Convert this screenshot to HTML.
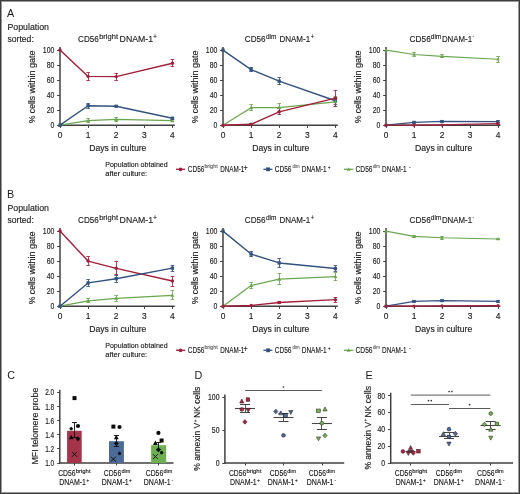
<!DOCTYPE html>
<html><head><meta charset="utf-8"><style>
html,body{margin:0;padding:0;background:#fff;}
body{width:520px;height:494px;overflow:hidden;}
svg{display:block;}
text{font-family:"Liberation Sans",sans-serif;fill:#222222;filter:grayscale(1);stroke:#222222;stroke-width:0.15px;}
text.big{stroke-width:0;fill:#1a1a1a;}
text.sm{stroke-width:0.12px;fill:#161616;stroke:#161616;}
</style></head><body>
<svg width="520" height="494" viewBox="0 0 520 494">
<rect x="0" y="0" width="520" height="494" fill="#fff"/>
<line x1="60.00" y1="47.10" x2="60.00" y2="125.95" stroke="#404040" stroke-width="1.5"/>
<line x1="59.25" y1="125.20" x2="174.80" y2="125.20" stroke="#404040" stroke-width="1.5"/>
<line x1="57.10" y1="125.50" x2="60.00" y2="125.50" stroke="#404040" stroke-width="1.0"/>
<text x="54.40" y="128.10" font-size="8.4" text-anchor="end" textLength="3.85" lengthAdjust="spacingAndGlyphs">0</text>
<line x1="57.10" y1="110.50" x2="60.00" y2="110.50" stroke="#404040" stroke-width="1.0"/>
<text x="54.40" y="113.08" font-size="8.4" text-anchor="end" textLength="7.70" lengthAdjust="spacingAndGlyphs">20</text>
<line x1="57.10" y1="95.50" x2="60.00" y2="95.50" stroke="#404040" stroke-width="1.0"/>
<text x="54.40" y="98.06" font-size="8.4" text-anchor="end" textLength="7.70" lengthAdjust="spacingAndGlyphs">40</text>
<line x1="57.10" y1="80.50" x2="60.00" y2="80.50" stroke="#404040" stroke-width="1.0"/>
<text x="54.40" y="83.04" font-size="8.4" text-anchor="end" textLength="7.70" lengthAdjust="spacingAndGlyphs">60</text>
<line x1="57.10" y1="65.50" x2="60.00" y2="65.50" stroke="#404040" stroke-width="1.0"/>
<text x="54.40" y="68.02" font-size="8.4" text-anchor="end" textLength="7.70" lengthAdjust="spacingAndGlyphs">80</text>
<line x1="57.10" y1="50.50" x2="60.00" y2="50.50" stroke="#404040" stroke-width="1.0"/>
<text x="54.40" y="53.00" font-size="8.4" text-anchor="end" textLength="11.55" lengthAdjust="spacingAndGlyphs">100</text>
<line x1="60.50" y1="125.20" x2="60.50" y2="127.90" stroke="#404040" stroke-width="1.0"/>
<text x="60.00" y="138.20" font-size="8.4" text-anchor="middle">0</text>
<line x1="88.50" y1="125.20" x2="88.50" y2="127.90" stroke="#404040" stroke-width="1.0"/>
<text x="88.10" y="138.20" font-size="8.4" text-anchor="middle">1</text>
<line x1="116.50" y1="125.20" x2="116.50" y2="127.90" stroke="#404040" stroke-width="1.0"/>
<text x="116.20" y="138.20" font-size="8.4" text-anchor="middle">2</text>
<line x1="144.50" y1="125.20" x2="144.50" y2="127.90" stroke="#404040" stroke-width="1.0"/>
<text x="144.30" y="138.20" font-size="8.4" text-anchor="middle">3</text>
<line x1="172.50" y1="125.20" x2="172.50" y2="127.90" stroke="#404040" stroke-width="1.0"/>
<text x="172.40" y="138.20" font-size="8.4" text-anchor="middle">4</text>
<polyline points="60.00,50.10 88.10,76.39 116.20,76.61 172.40,63.24" fill="none" stroke="#a21f3a" stroke-width="1.4" stroke-linejoin="round"/>
<line x1="88.50" y1="72.39" x2="88.50" y2="80.39" stroke="#a21f3a" stroke-width="0.85"/>
<line x1="86.30" y1="72.50" x2="89.90" y2="72.50" stroke="#a21f3a" stroke-width="0.85"/>
<line x1="86.30" y1="80.50" x2="89.90" y2="80.50" stroke="#a21f3a" stroke-width="0.85"/>
<line x1="116.50" y1="73.11" x2="116.50" y2="80.11" stroke="#a21f3a" stroke-width="0.85"/>
<line x1="114.40" y1="73.50" x2="118.00" y2="73.50" stroke="#a21f3a" stroke-width="0.85"/>
<line x1="114.40" y1="80.50" x2="118.00" y2="80.50" stroke="#a21f3a" stroke-width="0.85"/>
<line x1="172.50" y1="59.84" x2="172.50" y2="66.64" stroke="#a21f3a" stroke-width="0.85"/>
<line x1="170.60" y1="59.50" x2="174.20" y2="59.50" stroke="#a21f3a" stroke-width="0.85"/>
<line x1="170.60" y1="66.50" x2="174.20" y2="66.50" stroke="#a21f3a" stroke-width="0.85"/>
<polyline points="60.00,125.20 88.10,120.62 116.20,119.42 172.40,120.69" fill="none" stroke="#6aa650" stroke-width="1.25" stroke-linejoin="round"/>
<line x1="88.50" y1="118.62" x2="88.50" y2="122.62" stroke="#6aa650" stroke-width="0.85"/>
<line x1="86.30" y1="118.50" x2="89.90" y2="118.50" stroke="#6aa650" stroke-width="0.85"/>
<line x1="86.30" y1="122.50" x2="89.90" y2="122.50" stroke="#6aa650" stroke-width="0.85"/>
<line x1="116.50" y1="117.12" x2="116.50" y2="121.72" stroke="#6aa650" stroke-width="0.85"/>
<line x1="114.40" y1="117.50" x2="118.00" y2="117.50" stroke="#6aa650" stroke-width="0.85"/>
<line x1="114.40" y1="121.50" x2="118.00" y2="121.50" stroke="#6aa650" stroke-width="0.85"/>
<line x1="172.50" y1="119.69" x2="172.50" y2="121.69" stroke="#6aa650" stroke-width="0.85"/>
<line x1="170.60" y1="119.50" x2="174.20" y2="119.50" stroke="#6aa650" stroke-width="0.85"/>
<line x1="170.60" y1="121.50" x2="174.20" y2="121.50" stroke="#6aa650" stroke-width="0.85"/>
<polyline points="60.00,125.20 88.10,105.75 116.20,106.27 172.40,118.22" fill="none" stroke="#34527f" stroke-width="1.4" stroke-linejoin="round"/>
<line x1="88.50" y1="103.05" x2="88.50" y2="108.45" stroke="#34527f" stroke-width="0.85"/>
<line x1="86.30" y1="103.50" x2="89.90" y2="103.50" stroke="#34527f" stroke-width="0.85"/>
<line x1="86.30" y1="108.50" x2="89.90" y2="108.50" stroke="#34527f" stroke-width="0.85"/>
<line x1="116.50" y1="105.67" x2="116.50" y2="106.87" stroke="#34527f" stroke-width="0.85"/>
<line x1="114.40" y1="105.50" x2="118.00" y2="105.50" stroke="#34527f" stroke-width="0.85"/>
<line x1="114.40" y1="106.50" x2="118.00" y2="106.50" stroke="#34527f" stroke-width="0.85"/>
<line x1="172.50" y1="117.22" x2="172.50" y2="119.22" stroke="#34527f" stroke-width="0.85"/>
<line x1="170.60" y1="117.50" x2="174.20" y2="117.50" stroke="#34527f" stroke-width="0.85"/>
<line x1="170.60" y1="119.50" x2="174.20" y2="119.50" stroke="#34527f" stroke-width="0.85"/>
<circle cx="60.00" cy="50.10" r="1.73" fill="#a21f3a"/>
<circle cx="88.10" cy="76.39" r="1.73" fill="#a21f3a"/>
<circle cx="116.20" cy="76.61" r="1.73" fill="#a21f3a"/>
<circle cx="172.40" cy="63.24" r="1.73" fill="#a21f3a"/>
<path d="M60.00,123.14 L61.98,126.69 L58.02,126.69Z" fill="#6aa650"/>
<path d="M88.10,118.56 L90.08,122.10 L86.12,122.10Z" fill="#6aa650"/>
<path d="M116.20,117.35 L118.18,120.90 L114.22,120.90Z" fill="#6aa650"/>
<path d="M172.40,118.63 L174.38,122.18 L170.42,122.18Z" fill="#6aa650"/>
<rect x="58.35" y="123.55" width="3.30" height="3.30" fill="#34527f"/>
<rect x="86.45" y="104.10" width="3.30" height="3.30" fill="#34527f"/>
<rect x="114.55" y="104.62" width="3.30" height="3.30" fill="#34527f"/>
<rect x="170.75" y="116.57" width="3.30" height="3.30" fill="#34527f"/>
<text x="117.80" y="150.80" font-size="9.4" text-anchor="middle" textLength="57.20" lengthAdjust="spacingAndGlyphs">Days in culture</text>
<g transform="translate(35.40,123.20) rotate(-90)">
<text x="0.00" y="0.00" font-size="9.2" textLength="27.30" lengthAdjust="spacingAndGlyphs">% cells</text>
<text x="29.60" y="0.00" font-size="9.2" textLength="43.20" lengthAdjust="spacingAndGlyphs">within gate</text>
</g>
<line x1="223.00" y1="47.10" x2="223.00" y2="125.95" stroke="#404040" stroke-width="1.5"/>
<line x1="222.25" y1="125.20" x2="337.80" y2="125.20" stroke="#404040" stroke-width="1.5"/>
<line x1="220.10" y1="125.50" x2="223.00" y2="125.50" stroke="#404040" stroke-width="1.0"/>
<text x="217.40" y="128.10" font-size="8.4" text-anchor="end" textLength="3.85" lengthAdjust="spacingAndGlyphs">0</text>
<line x1="220.10" y1="110.50" x2="223.00" y2="110.50" stroke="#404040" stroke-width="1.0"/>
<text x="217.40" y="113.08" font-size="8.4" text-anchor="end" textLength="7.70" lengthAdjust="spacingAndGlyphs">20</text>
<line x1="220.10" y1="95.50" x2="223.00" y2="95.50" stroke="#404040" stroke-width="1.0"/>
<text x="217.40" y="98.06" font-size="8.4" text-anchor="end" textLength="7.70" lengthAdjust="spacingAndGlyphs">40</text>
<line x1="220.10" y1="80.50" x2="223.00" y2="80.50" stroke="#404040" stroke-width="1.0"/>
<text x="217.40" y="83.04" font-size="8.4" text-anchor="end" textLength="7.70" lengthAdjust="spacingAndGlyphs">60</text>
<line x1="220.10" y1="65.50" x2="223.00" y2="65.50" stroke="#404040" stroke-width="1.0"/>
<text x="217.40" y="68.02" font-size="8.4" text-anchor="end" textLength="7.70" lengthAdjust="spacingAndGlyphs">80</text>
<line x1="220.10" y1="50.50" x2="223.00" y2="50.50" stroke="#404040" stroke-width="1.0"/>
<text x="217.40" y="53.00" font-size="8.4" text-anchor="end" textLength="11.55" lengthAdjust="spacingAndGlyphs">100</text>
<line x1="223.50" y1="125.20" x2="223.50" y2="127.90" stroke="#404040" stroke-width="1.0"/>
<text x="223.00" y="138.20" font-size="8.4" text-anchor="middle">0</text>
<line x1="251.50" y1="125.20" x2="251.50" y2="127.90" stroke="#404040" stroke-width="1.0"/>
<text x="251.10" y="138.20" font-size="8.4" text-anchor="middle">1</text>
<line x1="279.50" y1="125.20" x2="279.50" y2="127.90" stroke="#404040" stroke-width="1.0"/>
<text x="279.20" y="138.20" font-size="8.4" text-anchor="middle">2</text>
<line x1="307.50" y1="125.20" x2="307.50" y2="127.90" stroke="#404040" stroke-width="1.0"/>
<text x="307.30" y="138.20" font-size="8.4" text-anchor="middle">3</text>
<line x1="335.50" y1="125.20" x2="335.50" y2="127.90" stroke="#404040" stroke-width="1.0"/>
<text x="335.40" y="138.20" font-size="8.4" text-anchor="middle">4</text>
<polyline points="223.00,50.10 251.10,69.63 279.20,81.19 335.40,100.72" fill="none" stroke="#34527f" stroke-width="1.4" stroke-linejoin="round"/>
<line x1="251.50" y1="67.53" x2="251.50" y2="71.73" stroke="#34527f" stroke-width="0.85"/>
<line x1="249.30" y1="67.50" x2="252.90" y2="67.50" stroke="#34527f" stroke-width="0.85"/>
<line x1="249.30" y1="71.50" x2="252.90" y2="71.50" stroke="#34527f" stroke-width="0.85"/>
<line x1="279.50" y1="77.59" x2="279.50" y2="84.79" stroke="#34527f" stroke-width="0.85"/>
<line x1="277.40" y1="77.50" x2="281.00" y2="77.50" stroke="#34527f" stroke-width="0.85"/>
<line x1="277.40" y1="84.50" x2="281.00" y2="84.50" stroke="#34527f" stroke-width="0.85"/>
<line x1="335.50" y1="97.42" x2="335.50" y2="104.02" stroke="#34527f" stroke-width="0.85"/>
<line x1="333.60" y1="97.50" x2="337.20" y2="97.50" stroke="#34527f" stroke-width="0.85"/>
<line x1="333.60" y1="104.50" x2="337.20" y2="104.50" stroke="#34527f" stroke-width="0.85"/>
<polyline points="223.00,125.20 251.10,107.70 279.20,107.55 335.40,101.77" fill="none" stroke="#6aa650" stroke-width="1.25" stroke-linejoin="round"/>
<line x1="251.50" y1="104.70" x2="251.50" y2="110.70" stroke="#6aa650" stroke-width="0.85"/>
<line x1="249.30" y1="104.50" x2="252.90" y2="104.50" stroke="#6aa650" stroke-width="0.85"/>
<line x1="249.30" y1="110.50" x2="252.90" y2="110.50" stroke="#6aa650" stroke-width="0.85"/>
<line x1="279.50" y1="103.45" x2="279.50" y2="111.65" stroke="#6aa650" stroke-width="0.85"/>
<line x1="277.40" y1="103.50" x2="281.00" y2="103.50" stroke="#6aa650" stroke-width="0.85"/>
<line x1="277.40" y1="111.50" x2="281.00" y2="111.50" stroke="#6aa650" stroke-width="0.85"/>
<line x1="335.50" y1="96.97" x2="335.50" y2="106.57" stroke="#6aa650" stroke-width="0.85"/>
<line x1="333.60" y1="96.50" x2="337.20" y2="96.50" stroke="#6aa650" stroke-width="0.85"/>
<line x1="333.60" y1="106.50" x2="337.20" y2="106.50" stroke="#6aa650" stroke-width="0.85"/>
<polyline points="223.00,125.20 251.10,124.30 279.20,111.83 335.40,98.16" fill="none" stroke="#a21f3a" stroke-width="1.4" stroke-linejoin="round"/>
<line x1="251.50" y1="123.70" x2="251.50" y2="124.90" stroke="#a21f3a" stroke-width="0.85"/>
<line x1="249.30" y1="123.50" x2="252.90" y2="123.50" stroke="#a21f3a" stroke-width="0.85"/>
<line x1="249.30" y1="124.50" x2="252.90" y2="124.50" stroke="#a21f3a" stroke-width="0.85"/>
<line x1="279.50" y1="108.73" x2="279.50" y2="114.93" stroke="#a21f3a" stroke-width="0.85"/>
<line x1="277.40" y1="108.50" x2="281.00" y2="108.50" stroke="#a21f3a" stroke-width="0.85"/>
<line x1="277.40" y1="114.50" x2="281.00" y2="114.50" stroke="#a21f3a" stroke-width="0.85"/>
<line x1="335.50" y1="90.26" x2="335.50" y2="106.06" stroke="#a21f3a" stroke-width="0.85"/>
<line x1="333.60" y1="90.50" x2="337.20" y2="90.50" stroke="#a21f3a" stroke-width="0.85"/>
<line x1="333.60" y1="106.50" x2="337.20" y2="106.50" stroke="#a21f3a" stroke-width="0.85"/>
<rect x="221.35" y="48.45" width="3.30" height="3.30" fill="#34527f"/>
<rect x="249.45" y="67.98" width="3.30" height="3.30" fill="#34527f"/>
<rect x="277.55" y="79.54" width="3.30" height="3.30" fill="#34527f"/>
<rect x="333.75" y="99.07" width="3.30" height="3.30" fill="#34527f"/>
<path d="M223.00,123.14 L224.98,126.69 L221.02,126.69Z" fill="#6aa650"/>
<path d="M251.10,105.64 L253.08,109.19 L249.12,109.19Z" fill="#6aa650"/>
<path d="M279.20,105.49 L281.18,109.04 L277.22,109.04Z" fill="#6aa650"/>
<path d="M335.40,99.71 L337.38,103.25 L333.42,103.25Z" fill="#6aa650"/>
<circle cx="223.00" cy="125.20" r="1.73" fill="#a21f3a"/>
<circle cx="251.10" cy="124.30" r="1.73" fill="#a21f3a"/>
<circle cx="279.20" cy="111.83" r="1.73" fill="#a21f3a"/>
<circle cx="335.40" cy="98.16" r="1.73" fill="#a21f3a"/>
<text x="280.80" y="150.80" font-size="9.4" text-anchor="middle" textLength="57.20" lengthAdjust="spacingAndGlyphs">Days in culture</text>
<g transform="translate(198.40,123.20) rotate(-90)">
<text x="0.00" y="0.00" font-size="9.2" textLength="27.30" lengthAdjust="spacingAndGlyphs">% cells</text>
<text x="29.60" y="0.00" font-size="9.2" textLength="43.20" lengthAdjust="spacingAndGlyphs">within gate</text>
</g>
<line x1="386.00" y1="47.10" x2="386.00" y2="125.95" stroke="#404040" stroke-width="1.5"/>
<line x1="385.25" y1="125.20" x2="500.40" y2="125.20" stroke="#404040" stroke-width="1.5"/>
<line x1="383.10" y1="125.50" x2="386.00" y2="125.50" stroke="#404040" stroke-width="1.0"/>
<text x="380.40" y="128.10" font-size="8.4" text-anchor="end" textLength="3.85" lengthAdjust="spacingAndGlyphs">0</text>
<line x1="383.10" y1="110.50" x2="386.00" y2="110.50" stroke="#404040" stroke-width="1.0"/>
<text x="380.40" y="113.08" font-size="8.4" text-anchor="end" textLength="7.70" lengthAdjust="spacingAndGlyphs">20</text>
<line x1="383.10" y1="95.50" x2="386.00" y2="95.50" stroke="#404040" stroke-width="1.0"/>
<text x="380.40" y="98.06" font-size="8.4" text-anchor="end" textLength="7.70" lengthAdjust="spacingAndGlyphs">40</text>
<line x1="383.10" y1="80.50" x2="386.00" y2="80.50" stroke="#404040" stroke-width="1.0"/>
<text x="380.40" y="83.04" font-size="8.4" text-anchor="end" textLength="7.70" lengthAdjust="spacingAndGlyphs">60</text>
<line x1="383.10" y1="65.50" x2="386.00" y2="65.50" stroke="#404040" stroke-width="1.0"/>
<text x="380.40" y="68.02" font-size="8.4" text-anchor="end" textLength="7.70" lengthAdjust="spacingAndGlyphs">80</text>
<line x1="383.10" y1="50.50" x2="386.00" y2="50.50" stroke="#404040" stroke-width="1.0"/>
<text x="380.40" y="53.00" font-size="8.4" text-anchor="end" textLength="11.55" lengthAdjust="spacingAndGlyphs">100</text>
<line x1="386.50" y1="125.20" x2="386.50" y2="127.90" stroke="#404040" stroke-width="1.0"/>
<text x="386.00" y="138.20" font-size="8.4" text-anchor="middle">0</text>
<line x1="414.50" y1="125.20" x2="414.50" y2="127.90" stroke="#404040" stroke-width="1.0"/>
<text x="414.00" y="138.20" font-size="8.4" text-anchor="middle">1</text>
<line x1="442.50" y1="125.20" x2="442.50" y2="127.90" stroke="#404040" stroke-width="1.0"/>
<text x="442.00" y="138.20" font-size="8.4" text-anchor="middle">2</text>
<line x1="470.50" y1="125.20" x2="470.50" y2="127.90" stroke="#404040" stroke-width="1.0"/>
<text x="470.00" y="138.20" font-size="8.4" text-anchor="middle">3</text>
<line x1="498.50" y1="125.20" x2="498.50" y2="127.90" stroke="#404040" stroke-width="1.0"/>
<text x="498.00" y="138.20" font-size="8.4" text-anchor="middle">4</text>
<polyline points="386.00,50.10 414.00,54.46 442.00,56.33 498.00,59.26" fill="none" stroke="#6aa650" stroke-width="1.1500000000000001" stroke-linejoin="round"/>
<line x1="414.50" y1="52.56" x2="414.50" y2="56.36" stroke="#6aa650" stroke-width="0.85"/>
<line x1="412.20" y1="52.50" x2="415.80" y2="52.50" stroke="#6aa650" stroke-width="0.85"/>
<line x1="412.20" y1="56.50" x2="415.80" y2="56.50" stroke="#6aa650" stroke-width="0.85"/>
<line x1="442.50" y1="54.83" x2="442.50" y2="57.83" stroke="#6aa650" stroke-width="0.85"/>
<line x1="440.20" y1="54.50" x2="443.80" y2="54.50" stroke="#6aa650" stroke-width="0.85"/>
<line x1="440.20" y1="57.50" x2="443.80" y2="57.50" stroke="#6aa650" stroke-width="0.85"/>
<line x1="498.50" y1="56.16" x2="498.50" y2="62.36" stroke="#6aa650" stroke-width="0.85"/>
<line x1="496.20" y1="56.50" x2="499.80" y2="56.50" stroke="#6aa650" stroke-width="0.85"/>
<line x1="496.20" y1="62.50" x2="499.80" y2="62.50" stroke="#6aa650" stroke-width="0.85"/>
<polyline points="386.00,125.20 414.00,122.27 442.00,121.45 498.00,121.67" fill="none" stroke="#34527f" stroke-width="1.288" stroke-linejoin="round"/>
<line x1="414.50" y1="121.47" x2="414.50" y2="123.07" stroke="#34527f" stroke-width="0.85"/>
<line x1="412.20" y1="121.50" x2="415.80" y2="121.50" stroke="#34527f" stroke-width="0.85"/>
<line x1="412.20" y1="123.50" x2="415.80" y2="123.50" stroke="#34527f" stroke-width="0.85"/>
<line x1="442.50" y1="120.65" x2="442.50" y2="122.25" stroke="#34527f" stroke-width="0.85"/>
<line x1="440.20" y1="120.50" x2="443.80" y2="120.50" stroke="#34527f" stroke-width="0.85"/>
<line x1="440.20" y1="122.50" x2="443.80" y2="122.50" stroke="#34527f" stroke-width="0.85"/>
<line x1="498.50" y1="120.87" x2="498.50" y2="122.47" stroke="#34527f" stroke-width="0.85"/>
<line x1="496.20" y1="120.50" x2="499.80" y2="120.50" stroke="#34527f" stroke-width="0.85"/>
<line x1="496.20" y1="122.50" x2="499.80" y2="122.50" stroke="#34527f" stroke-width="0.85"/>
<polyline points="386.00,125.20 414.00,125.20 442.00,124.97 498.00,123.55" fill="none" stroke="#a21f3a" stroke-width="1.288" stroke-linejoin="round"/>
<line x1="498.50" y1="122.95" x2="498.50" y2="124.15" stroke="#a21f3a" stroke-width="0.85"/>
<line x1="496.20" y1="122.50" x2="499.80" y2="122.50" stroke="#a21f3a" stroke-width="0.85"/>
<line x1="496.20" y1="124.50" x2="499.80" y2="124.50" stroke="#a21f3a" stroke-width="0.85"/>
<path d="M386.00,48.23 L387.80,51.45 L384.20,51.45Z" fill="#6aa650"/>
<path d="M414.00,52.58 L415.80,55.81 L412.20,55.81Z" fill="#6aa650"/>
<path d="M442.00,54.46 L443.80,57.68 L440.20,57.68Z" fill="#6aa650"/>
<path d="M498.00,57.39 L499.80,60.61 L496.20,60.61Z" fill="#6aa650"/>
<rect x="384.50" y="123.70" width="3.00" height="3.00" fill="#34527f"/>
<rect x="412.50" y="120.77" width="3.00" height="3.00" fill="#34527f"/>
<rect x="440.50" y="119.95" width="3.00" height="3.00" fill="#34527f"/>
<rect x="496.50" y="120.17" width="3.00" height="3.00" fill="#34527f"/>
<circle cx="386.00" cy="125.20" r="1.58" fill="#a21f3a"/>
<circle cx="414.00" cy="125.20" r="1.58" fill="#a21f3a"/>
<circle cx="442.00" cy="124.97" r="1.58" fill="#a21f3a"/>
<circle cx="498.00" cy="123.55" r="1.58" fill="#a21f3a"/>
<text x="443.60" y="150.80" font-size="9.4" text-anchor="middle" textLength="57.20" lengthAdjust="spacingAndGlyphs">Days in culture</text>
<g transform="translate(361.30,123.20) rotate(-90)">
<text x="0.00" y="0.00" font-size="9.2" textLength="27.30" lengthAdjust="spacingAndGlyphs">% cells</text>
<text x="29.60" y="0.00" font-size="9.2" textLength="43.20" lengthAdjust="spacingAndGlyphs">within gate</text>
</g>
<text x="7.00" y="17.10" font-size="10.8" class="big">A</text>
<text x="7.40" y="30.40" font-size="9.5" textLength="41.60" lengthAdjust="spacingAndGlyphs">Population</text>
<text x="7.40" y="41.50" font-size="9.5" textLength="26.40" lengthAdjust="spacingAndGlyphs">sorted:</text>
<text x="78.10" y="41.80" font-size="9.8" textLength="20.70" lengthAdjust="spacingAndGlyphs">CD56</text>
<text x="99.20" y="38.90" font-size="7.5" textLength="18.80" lengthAdjust="spacingAndGlyphs">bright</text>
<text x="119.60" y="41.80" font-size="9.8" textLength="33.40" lengthAdjust="spacingAndGlyphs">DNAM-1</text>
<text x="153.10" y="39.30" font-size="8.0" textLength="4.00" lengthAdjust="spacingAndGlyphs">+</text>
<text x="244.80" y="41.80" font-size="9.8" textLength="20.80" lengthAdjust="spacingAndGlyphs">CD56</text>
<text x="266.00" y="38.90" font-size="7.5" textLength="10.50" lengthAdjust="spacingAndGlyphs">dim</text>
<text x="279.40" y="41.80" font-size="9.8" textLength="30.80" lengthAdjust="spacingAndGlyphs">DNAM-1</text>
<text x="310.80" y="39.10" font-size="7.4" textLength="3.40" lengthAdjust="spacingAndGlyphs">+</text>
<text x="409.60" y="41.80" font-size="9.8" textLength="21.20" lengthAdjust="spacingAndGlyphs">CD56</text>
<text x="430.80" y="38.90" font-size="7.5" textLength="10.50" lengthAdjust="spacingAndGlyphs">dim</text>
<text x="441.90" y="41.80" font-size="9.8" textLength="30.20" lengthAdjust="spacingAndGlyphs">DNAM-1</text>
<text x="472.60" y="37.80" font-size="6.5" textLength="1.60" lengthAdjust="spacingAndGlyphs">-</text>
<text x="105.20" y="166.60" font-size="7.2" textLength="62.50" lengthAdjust="spacingAndGlyphs" class="sm">Population obtained</text>
<text x="105.20" y="175.50" font-size="7.2" textLength="42.00" lengthAdjust="spacingAndGlyphs" class="sm">after culture:</text>
<line x1="176.00" y1="169.30" x2="185.20" y2="169.30" stroke="#a21f3a" stroke-width="1.3"/>
<circle cx="180.60" cy="169.30" r="1.84" fill="#a21f3a"/>
<text x="187.80" y="171.80" font-size="8.6" textLength="16.60" lengthAdjust="spacingAndGlyphs" class="sm">CD56</text>
<text x="204.40" y="168.40" font-size="5.0" textLength="13.40" lengthAdjust="spacingAndGlyphs" style="fill:#666;stroke:#666">bright</text>
<text x="220.20" y="171.80" font-size="8.6" textLength="24.20" lengthAdjust="spacingAndGlyphs" class="sm">DNAM-1</text>
<text x="243.60" y="170.50" font-size="9.0" textLength="4.20" lengthAdjust="spacingAndGlyphs" class="sm">+</text>
<line x1="263.40" y1="169.30" x2="272.40" y2="169.30" stroke="#34527f" stroke-width="1.3"/>
<rect x="266.20" y="167.40" width="3.80" height="3.80" fill="#34527f"/>
<text x="274.70" y="171.80" font-size="8.6" textLength="16.80" lengthAdjust="spacingAndGlyphs" class="sm">CD56</text>
<text x="292.60" y="168.40" font-size="5.0" textLength="7.00" lengthAdjust="spacingAndGlyphs" style="fill:#666;stroke:#666">dim</text>
<text x="301.70" y="171.80" font-size="8.6" textLength="25.00" lengthAdjust="spacingAndGlyphs" class="sm">DNAM-1</text>
<text x="327.90" y="168.90" font-size="5.2" textLength="2.40" lengthAdjust="spacingAndGlyphs">+</text>
<line x1="344.00" y1="169.30" x2="353.30" y2="169.30" stroke="#6aa650" stroke-width="1.3"/>
<path d="M348.60,167.30 L350.52,170.74 L346.68,170.74Z" fill="#6aa650"/>
<text x="355.60" y="171.80" font-size="8.6" textLength="16.90" lengthAdjust="spacingAndGlyphs" class="sm">CD56</text>
<text x="372.90" y="168.40" font-size="5.0" textLength="6.90" lengthAdjust="spacingAndGlyphs" style="fill:#666;stroke:#666">dim</text>
<text x="382.00" y="171.80" font-size="8.6" textLength="24.60" lengthAdjust="spacingAndGlyphs" class="sm">DNAM-1</text>
<text x="409.20" y="168.20" font-size="4.0" textLength="1.20" lengthAdjust="spacingAndGlyphs">-</text>
<line x1="60.00" y1="228.10" x2="60.00" y2="306.95" stroke="#404040" stroke-width="1.5"/>
<line x1="59.25" y1="306.20" x2="174.80" y2="306.20" stroke="#404040" stroke-width="1.5"/>
<line x1="57.10" y1="306.50" x2="60.00" y2="306.50" stroke="#404040" stroke-width="1.0"/>
<text x="54.40" y="309.10" font-size="8.4" text-anchor="end" textLength="3.85" lengthAdjust="spacingAndGlyphs">0</text>
<line x1="57.10" y1="291.50" x2="60.00" y2="291.50" stroke="#404040" stroke-width="1.0"/>
<text x="54.40" y="294.08" font-size="8.4" text-anchor="end" textLength="7.70" lengthAdjust="spacingAndGlyphs">20</text>
<line x1="57.10" y1="276.50" x2="60.00" y2="276.50" stroke="#404040" stroke-width="1.0"/>
<text x="54.40" y="279.06" font-size="8.4" text-anchor="end" textLength="7.70" lengthAdjust="spacingAndGlyphs">40</text>
<line x1="57.10" y1="261.50" x2="60.00" y2="261.50" stroke="#404040" stroke-width="1.0"/>
<text x="54.40" y="264.04" font-size="8.4" text-anchor="end" textLength="7.70" lengthAdjust="spacingAndGlyphs">60</text>
<line x1="57.10" y1="246.50" x2="60.00" y2="246.50" stroke="#404040" stroke-width="1.0"/>
<text x="54.40" y="249.02" font-size="8.4" text-anchor="end" textLength="7.70" lengthAdjust="spacingAndGlyphs">80</text>
<line x1="57.10" y1="231.50" x2="60.00" y2="231.50" stroke="#404040" stroke-width="1.0"/>
<text x="54.40" y="234.00" font-size="8.4" text-anchor="end" textLength="11.55" lengthAdjust="spacingAndGlyphs">100</text>
<line x1="60.50" y1="306.20" x2="60.50" y2="308.90" stroke="#404040" stroke-width="1.0"/>
<text x="60.00" y="319.20" font-size="8.4" text-anchor="middle">0</text>
<line x1="88.50" y1="306.20" x2="88.50" y2="308.90" stroke="#404040" stroke-width="1.0"/>
<text x="88.10" y="319.20" font-size="8.4" text-anchor="middle">1</text>
<line x1="116.50" y1="306.20" x2="116.50" y2="308.90" stroke="#404040" stroke-width="1.0"/>
<text x="116.20" y="319.20" font-size="8.4" text-anchor="middle">2</text>
<line x1="144.50" y1="306.20" x2="144.50" y2="308.90" stroke="#404040" stroke-width="1.0"/>
<text x="144.30" y="319.20" font-size="8.4" text-anchor="middle">3</text>
<line x1="172.50" y1="306.20" x2="172.50" y2="308.90" stroke="#404040" stroke-width="1.0"/>
<text x="172.40" y="319.20" font-size="8.4" text-anchor="middle">4</text>
<polyline points="60.00,231.10 88.10,261.06 116.20,268.35 172.40,281.04" fill="none" stroke="#a21f3a" stroke-width="1.4" stroke-linejoin="round"/>
<line x1="88.50" y1="256.46" x2="88.50" y2="265.66" stroke="#a21f3a" stroke-width="0.85"/>
<line x1="86.30" y1="256.50" x2="89.90" y2="256.50" stroke="#a21f3a" stroke-width="0.85"/>
<line x1="86.30" y1="265.50" x2="89.90" y2="265.50" stroke="#a21f3a" stroke-width="0.85"/>
<line x1="116.50" y1="261.85" x2="116.50" y2="274.85" stroke="#a21f3a" stroke-width="0.85"/>
<line x1="114.40" y1="261.50" x2="118.00" y2="261.50" stroke="#a21f3a" stroke-width="0.85"/>
<line x1="114.40" y1="274.50" x2="118.00" y2="274.50" stroke="#a21f3a" stroke-width="0.85"/>
<line x1="172.50" y1="276.04" x2="172.50" y2="286.04" stroke="#a21f3a" stroke-width="0.85"/>
<line x1="170.60" y1="276.50" x2="174.20" y2="276.50" stroke="#a21f3a" stroke-width="0.85"/>
<line x1="170.60" y1="286.50" x2="174.20" y2="286.50" stroke="#a21f3a" stroke-width="0.85"/>
<polyline points="60.00,306.20 88.10,300.79 116.20,298.31 172.40,295.39" fill="none" stroke="#6aa650" stroke-width="1.25" stroke-linejoin="round"/>
<line x1="88.50" y1="298.69" x2="88.50" y2="302.89" stroke="#6aa650" stroke-width="0.85"/>
<line x1="86.30" y1="298.50" x2="89.90" y2="298.50" stroke="#6aa650" stroke-width="0.85"/>
<line x1="86.30" y1="302.50" x2="89.90" y2="302.50" stroke="#6aa650" stroke-width="0.85"/>
<line x1="116.50" y1="295.31" x2="116.50" y2="301.31" stroke="#6aa650" stroke-width="0.85"/>
<line x1="114.40" y1="295.50" x2="118.00" y2="295.50" stroke="#6aa650" stroke-width="0.85"/>
<line x1="114.40" y1="301.50" x2="118.00" y2="301.50" stroke="#6aa650" stroke-width="0.85"/>
<line x1="172.50" y1="290.99" x2="172.50" y2="299.79" stroke="#6aa650" stroke-width="0.85"/>
<line x1="170.60" y1="290.50" x2="174.20" y2="290.50" stroke="#6aa650" stroke-width="0.85"/>
<line x1="170.60" y1="299.50" x2="174.20" y2="299.50" stroke="#6aa650" stroke-width="0.85"/>
<polyline points="60.00,306.20 88.10,282.92 116.20,278.71 172.40,268.12" fill="none" stroke="#34527f" stroke-width="1.4" stroke-linejoin="round"/>
<line x1="88.50" y1="279.82" x2="88.50" y2="286.02" stroke="#34527f" stroke-width="0.85"/>
<line x1="86.30" y1="279.50" x2="89.90" y2="279.50" stroke="#34527f" stroke-width="0.85"/>
<line x1="86.30" y1="286.50" x2="89.90" y2="286.50" stroke="#34527f" stroke-width="0.85"/>
<line x1="116.50" y1="275.41" x2="116.50" y2="282.01" stroke="#34527f" stroke-width="0.85"/>
<line x1="114.40" y1="275.50" x2="118.00" y2="275.50" stroke="#34527f" stroke-width="0.85"/>
<line x1="114.40" y1="282.50" x2="118.00" y2="282.50" stroke="#34527f" stroke-width="0.85"/>
<line x1="172.50" y1="265.12" x2="172.50" y2="271.12" stroke="#34527f" stroke-width="0.85"/>
<line x1="170.60" y1="265.50" x2="174.20" y2="265.50" stroke="#34527f" stroke-width="0.85"/>
<line x1="170.60" y1="271.50" x2="174.20" y2="271.50" stroke="#34527f" stroke-width="0.85"/>
<circle cx="60.00" cy="231.10" r="1.73" fill="#a21f3a"/>
<circle cx="88.10" cy="261.06" r="1.73" fill="#a21f3a"/>
<circle cx="116.20" cy="268.35" r="1.73" fill="#a21f3a"/>
<circle cx="172.40" cy="281.04" r="1.73" fill="#a21f3a"/>
<path d="M60.00,304.14 L61.98,307.69 L58.02,307.69Z" fill="#6aa650"/>
<path d="M88.10,298.73 L90.08,302.28 L86.12,302.28Z" fill="#6aa650"/>
<path d="M116.20,296.25 L118.18,299.80 L114.22,299.80Z" fill="#6aa650"/>
<path d="M172.40,293.32 L174.38,296.87 L170.42,296.87Z" fill="#6aa650"/>
<rect x="58.35" y="304.55" width="3.30" height="3.30" fill="#34527f"/>
<rect x="86.45" y="281.27" width="3.30" height="3.30" fill="#34527f"/>
<rect x="114.55" y="277.06" width="3.30" height="3.30" fill="#34527f"/>
<rect x="170.75" y="266.47" width="3.30" height="3.30" fill="#34527f"/>
<text x="117.80" y="331.80" font-size="9.4" text-anchor="middle" textLength="57.20" lengthAdjust="spacingAndGlyphs">Days in culture</text>
<g transform="translate(35.40,304.20) rotate(-90)">
<text x="0.00" y="0.00" font-size="9.2" textLength="27.30" lengthAdjust="spacingAndGlyphs">% cells</text>
<text x="29.60" y="0.00" font-size="9.2" textLength="43.20" lengthAdjust="spacingAndGlyphs">within gate</text>
</g>
<line x1="223.00" y1="228.10" x2="223.00" y2="306.95" stroke="#404040" stroke-width="1.5"/>
<line x1="222.25" y1="306.20" x2="337.80" y2="306.20" stroke="#404040" stroke-width="1.5"/>
<line x1="220.10" y1="306.50" x2="223.00" y2="306.50" stroke="#404040" stroke-width="1.0"/>
<text x="217.40" y="309.10" font-size="8.4" text-anchor="end" textLength="3.85" lengthAdjust="spacingAndGlyphs">0</text>
<line x1="220.10" y1="291.50" x2="223.00" y2="291.50" stroke="#404040" stroke-width="1.0"/>
<text x="217.40" y="294.08" font-size="8.4" text-anchor="end" textLength="7.70" lengthAdjust="spacingAndGlyphs">20</text>
<line x1="220.10" y1="276.50" x2="223.00" y2="276.50" stroke="#404040" stroke-width="1.0"/>
<text x="217.40" y="279.06" font-size="8.4" text-anchor="end" textLength="7.70" lengthAdjust="spacingAndGlyphs">40</text>
<line x1="220.10" y1="261.50" x2="223.00" y2="261.50" stroke="#404040" stroke-width="1.0"/>
<text x="217.40" y="264.04" font-size="8.4" text-anchor="end" textLength="7.70" lengthAdjust="spacingAndGlyphs">60</text>
<line x1="220.10" y1="246.50" x2="223.00" y2="246.50" stroke="#404040" stroke-width="1.0"/>
<text x="217.40" y="249.02" font-size="8.4" text-anchor="end" textLength="7.70" lengthAdjust="spacingAndGlyphs">80</text>
<line x1="220.10" y1="231.50" x2="223.00" y2="231.50" stroke="#404040" stroke-width="1.0"/>
<text x="217.40" y="234.00" font-size="8.4" text-anchor="end" textLength="11.55" lengthAdjust="spacingAndGlyphs">100</text>
<line x1="223.50" y1="306.20" x2="223.50" y2="308.90" stroke="#404040" stroke-width="1.0"/>
<text x="223.00" y="319.20" font-size="8.4" text-anchor="middle">0</text>
<line x1="251.50" y1="306.20" x2="251.50" y2="308.90" stroke="#404040" stroke-width="1.0"/>
<text x="251.10" y="319.20" font-size="8.4" text-anchor="middle">1</text>
<line x1="279.50" y1="306.20" x2="279.50" y2="308.90" stroke="#404040" stroke-width="1.0"/>
<text x="279.20" y="319.20" font-size="8.4" text-anchor="middle">2</text>
<line x1="307.50" y1="306.20" x2="307.50" y2="308.90" stroke="#404040" stroke-width="1.0"/>
<text x="307.30" y="319.20" font-size="8.4" text-anchor="middle">3</text>
<line x1="335.50" y1="306.20" x2="335.50" y2="308.90" stroke="#404040" stroke-width="1.0"/>
<text x="335.40" y="319.20" font-size="8.4" text-anchor="middle">4</text>
<polyline points="223.00,231.10 251.10,254.08 279.20,262.94 335.40,268.57" fill="none" stroke="#34527f" stroke-width="1.4" stroke-linejoin="round"/>
<line x1="251.50" y1="251.28" x2="251.50" y2="256.88" stroke="#34527f" stroke-width="0.85"/>
<line x1="249.30" y1="251.50" x2="252.90" y2="251.50" stroke="#34527f" stroke-width="0.85"/>
<line x1="249.30" y1="256.50" x2="252.90" y2="256.50" stroke="#34527f" stroke-width="0.85"/>
<line x1="279.50" y1="258.34" x2="279.50" y2="267.54" stroke="#34527f" stroke-width="0.85"/>
<line x1="277.40" y1="258.50" x2="281.00" y2="258.50" stroke="#34527f" stroke-width="0.85"/>
<line x1="277.40" y1="267.50" x2="281.00" y2="267.50" stroke="#34527f" stroke-width="0.85"/>
<line x1="335.50" y1="265.97" x2="335.50" y2="271.17" stroke="#34527f" stroke-width="0.85"/>
<line x1="333.60" y1="265.50" x2="337.20" y2="265.50" stroke="#34527f" stroke-width="0.85"/>
<line x1="333.60" y1="271.50" x2="337.20" y2="271.50" stroke="#34527f" stroke-width="0.85"/>
<polyline points="223.00,306.20 251.10,285.55 279.20,279.16 335.40,276.61" fill="none" stroke="#6aa650" stroke-width="1.25" stroke-linejoin="round"/>
<line x1="251.50" y1="282.35" x2="251.50" y2="288.75" stroke="#6aa650" stroke-width="0.85"/>
<line x1="249.30" y1="282.50" x2="252.90" y2="282.50" stroke="#6aa650" stroke-width="0.85"/>
<line x1="249.30" y1="288.50" x2="252.90" y2="288.50" stroke="#6aa650" stroke-width="0.85"/>
<line x1="279.50" y1="273.86" x2="279.50" y2="284.46" stroke="#6aa650" stroke-width="0.85"/>
<line x1="277.40" y1="273.50" x2="281.00" y2="273.50" stroke="#6aa650" stroke-width="0.85"/>
<line x1="277.40" y1="284.50" x2="281.00" y2="284.50" stroke="#6aa650" stroke-width="0.85"/>
<line x1="335.50" y1="272.31" x2="335.50" y2="280.91" stroke="#6aa650" stroke-width="0.85"/>
<line x1="333.60" y1="272.50" x2="337.20" y2="272.50" stroke="#6aa650" stroke-width="0.85"/>
<line x1="333.60" y1="280.50" x2="337.20" y2="280.50" stroke="#6aa650" stroke-width="0.85"/>
<polyline points="223.00,306.20 251.10,305.45 279.20,302.52 335.40,299.67" fill="none" stroke="#a21f3a" stroke-width="1.4" stroke-linejoin="round"/>
<line x1="279.50" y1="301.92" x2="279.50" y2="303.12" stroke="#a21f3a" stroke-width="0.85"/>
<line x1="277.40" y1="301.50" x2="281.00" y2="301.50" stroke="#a21f3a" stroke-width="0.85"/>
<line x1="277.40" y1="303.50" x2="281.00" y2="303.50" stroke="#a21f3a" stroke-width="0.85"/>
<line x1="335.50" y1="297.07" x2="335.50" y2="302.27" stroke="#a21f3a" stroke-width="0.85"/>
<line x1="333.60" y1="297.50" x2="337.20" y2="297.50" stroke="#a21f3a" stroke-width="0.85"/>
<line x1="333.60" y1="302.50" x2="337.20" y2="302.50" stroke="#a21f3a" stroke-width="0.85"/>
<rect x="221.35" y="229.45" width="3.30" height="3.30" fill="#34527f"/>
<rect x="249.45" y="252.43" width="3.30" height="3.30" fill="#34527f"/>
<rect x="277.55" y="261.29" width="3.30" height="3.30" fill="#34527f"/>
<rect x="333.75" y="266.92" width="3.30" height="3.30" fill="#34527f"/>
<path d="M223.00,304.14 L224.98,307.69 L221.02,307.69Z" fill="#6aa650"/>
<path d="M251.10,283.49 L253.08,287.03 L249.12,287.03Z" fill="#6aa650"/>
<path d="M279.20,277.10 L281.18,280.65 L277.22,280.65Z" fill="#6aa650"/>
<path d="M335.40,274.55 L337.38,278.10 L333.42,278.10Z" fill="#6aa650"/>
<circle cx="223.00" cy="306.20" r="1.73" fill="#a21f3a"/>
<circle cx="251.10" cy="305.45" r="1.73" fill="#a21f3a"/>
<circle cx="279.20" cy="302.52" r="1.73" fill="#a21f3a"/>
<circle cx="335.40" cy="299.67" r="1.73" fill="#a21f3a"/>
<text x="280.80" y="331.80" font-size="9.4" text-anchor="middle" textLength="57.20" lengthAdjust="spacingAndGlyphs">Days in culture</text>
<g transform="translate(198.40,304.20) rotate(-90)">
<text x="0.00" y="0.00" font-size="9.2" textLength="27.30" lengthAdjust="spacingAndGlyphs">% cells</text>
<text x="29.60" y="0.00" font-size="9.2" textLength="43.20" lengthAdjust="spacingAndGlyphs">within gate</text>
</g>
<line x1="386.00" y1="228.10" x2="386.00" y2="306.95" stroke="#404040" stroke-width="1.5"/>
<line x1="385.25" y1="306.20" x2="500.40" y2="306.20" stroke="#404040" stroke-width="1.5"/>
<line x1="383.10" y1="306.50" x2="386.00" y2="306.50" stroke="#404040" stroke-width="1.0"/>
<text x="380.40" y="309.10" font-size="8.4" text-anchor="end" textLength="3.85" lengthAdjust="spacingAndGlyphs">0</text>
<line x1="383.10" y1="291.50" x2="386.00" y2="291.50" stroke="#404040" stroke-width="1.0"/>
<text x="380.40" y="294.08" font-size="8.4" text-anchor="end" textLength="7.70" lengthAdjust="spacingAndGlyphs">20</text>
<line x1="383.10" y1="276.50" x2="386.00" y2="276.50" stroke="#404040" stroke-width="1.0"/>
<text x="380.40" y="279.06" font-size="8.4" text-anchor="end" textLength="7.70" lengthAdjust="spacingAndGlyphs">40</text>
<line x1="383.10" y1="261.50" x2="386.00" y2="261.50" stroke="#404040" stroke-width="1.0"/>
<text x="380.40" y="264.04" font-size="8.4" text-anchor="end" textLength="7.70" lengthAdjust="spacingAndGlyphs">60</text>
<line x1="383.10" y1="246.50" x2="386.00" y2="246.50" stroke="#404040" stroke-width="1.0"/>
<text x="380.40" y="249.02" font-size="8.4" text-anchor="end" textLength="7.70" lengthAdjust="spacingAndGlyphs">80</text>
<line x1="383.10" y1="231.50" x2="386.00" y2="231.50" stroke="#404040" stroke-width="1.0"/>
<text x="380.40" y="234.00" font-size="8.4" text-anchor="end" textLength="11.55" lengthAdjust="spacingAndGlyphs">100</text>
<line x1="386.50" y1="306.20" x2="386.50" y2="308.90" stroke="#404040" stroke-width="1.0"/>
<text x="386.00" y="319.20" font-size="8.4" text-anchor="middle">0</text>
<line x1="414.50" y1="306.20" x2="414.50" y2="308.90" stroke="#404040" stroke-width="1.0"/>
<text x="414.00" y="319.20" font-size="8.4" text-anchor="middle">1</text>
<line x1="442.50" y1="306.20" x2="442.50" y2="308.90" stroke="#404040" stroke-width="1.0"/>
<text x="442.00" y="319.20" font-size="8.4" text-anchor="middle">2</text>
<line x1="470.50" y1="306.20" x2="470.50" y2="308.90" stroke="#404040" stroke-width="1.0"/>
<text x="470.00" y="319.20" font-size="8.4" text-anchor="middle">3</text>
<line x1="498.50" y1="306.20" x2="498.50" y2="308.90" stroke="#404040" stroke-width="1.0"/>
<text x="498.00" y="319.20" font-size="8.4" text-anchor="middle">4</text>
<polyline points="386.00,231.10 414.00,236.36 442.00,237.78 498.00,238.99" fill="none" stroke="#6aa650" stroke-width="1.1500000000000001" stroke-linejoin="round"/>
<line x1="414.50" y1="235.16" x2="414.50" y2="237.56" stroke="#6aa650" stroke-width="0.85"/>
<line x1="412.20" y1="235.50" x2="415.80" y2="235.50" stroke="#6aa650" stroke-width="0.85"/>
<line x1="412.20" y1="237.50" x2="415.80" y2="237.50" stroke="#6aa650" stroke-width="0.85"/>
<line x1="442.50" y1="236.28" x2="442.50" y2="239.28" stroke="#6aa650" stroke-width="0.85"/>
<line x1="440.20" y1="236.50" x2="443.80" y2="236.50" stroke="#6aa650" stroke-width="0.85"/>
<line x1="440.20" y1="239.50" x2="443.80" y2="239.50" stroke="#6aa650" stroke-width="0.85"/>
<line x1="498.50" y1="238.39" x2="498.50" y2="239.59" stroke="#6aa650" stroke-width="0.85"/>
<line x1="496.20" y1="238.50" x2="499.80" y2="238.50" stroke="#6aa650" stroke-width="0.85"/>
<line x1="496.20" y1="239.50" x2="499.80" y2="239.50" stroke="#6aa650" stroke-width="0.85"/>
<polyline points="386.00,306.20 414.00,301.39 442.00,300.72 498.00,301.39" fill="none" stroke="#34527f" stroke-width="1.288" stroke-linejoin="round"/>
<line x1="414.50" y1="300.59" x2="414.50" y2="302.19" stroke="#34527f" stroke-width="0.85"/>
<line x1="412.20" y1="300.50" x2="415.80" y2="300.50" stroke="#34527f" stroke-width="0.85"/>
<line x1="412.20" y1="302.50" x2="415.80" y2="302.50" stroke="#34527f" stroke-width="0.85"/>
<line x1="442.50" y1="299.92" x2="442.50" y2="301.52" stroke="#34527f" stroke-width="0.85"/>
<line x1="440.20" y1="299.50" x2="443.80" y2="299.50" stroke="#34527f" stroke-width="0.85"/>
<line x1="440.20" y1="301.50" x2="443.80" y2="301.50" stroke="#34527f" stroke-width="0.85"/>
<line x1="498.50" y1="300.59" x2="498.50" y2="302.19" stroke="#34527f" stroke-width="0.85"/>
<line x1="496.20" y1="300.50" x2="499.80" y2="300.50" stroke="#34527f" stroke-width="0.85"/>
<line x1="496.20" y1="302.50" x2="499.80" y2="302.50" stroke="#34527f" stroke-width="0.85"/>
<polyline points="386.00,306.20 414.00,306.20 442.00,305.90 498.00,305.60" fill="none" stroke="#a21f3a" stroke-width="1.288" stroke-linejoin="round"/>
<path d="M386.00,229.22 L387.80,232.45 L384.20,232.45Z" fill="#6aa650"/>
<path d="M414.00,234.48 L415.80,237.71 L412.20,237.71Z" fill="#6aa650"/>
<path d="M442.00,235.91 L443.80,239.13 L440.20,239.13Z" fill="#6aa650"/>
<path d="M498.00,237.11 L499.80,240.34 L496.20,240.34Z" fill="#6aa650"/>
<rect x="384.50" y="304.70" width="3.00" height="3.00" fill="#34527f"/>
<rect x="412.50" y="299.89" width="3.00" height="3.00" fill="#34527f"/>
<rect x="440.50" y="299.22" width="3.00" height="3.00" fill="#34527f"/>
<rect x="496.50" y="299.89" width="3.00" height="3.00" fill="#34527f"/>
<circle cx="386.00" cy="306.20" r="1.58" fill="#a21f3a"/>
<circle cx="414.00" cy="306.20" r="1.58" fill="#a21f3a"/>
<circle cx="442.00" cy="305.90" r="1.58" fill="#a21f3a"/>
<circle cx="498.00" cy="305.60" r="1.58" fill="#a21f3a"/>
<text x="443.60" y="331.80" font-size="9.4" text-anchor="middle" textLength="57.20" lengthAdjust="spacingAndGlyphs">Days in culture</text>
<g transform="translate(361.30,304.20) rotate(-90)">
<text x="0.00" y="0.00" font-size="9.2" textLength="27.30" lengthAdjust="spacingAndGlyphs">% cells</text>
<text x="29.60" y="0.00" font-size="9.2" textLength="43.20" lengthAdjust="spacingAndGlyphs">within gate</text>
</g>
<text x="7.00" y="198.10" font-size="10.8" class="big">B</text>
<text x="7.40" y="211.40" font-size="9.5" textLength="41.60" lengthAdjust="spacingAndGlyphs">Population</text>
<text x="7.40" y="222.50" font-size="9.5" textLength="26.40" lengthAdjust="spacingAndGlyphs">sorted:</text>
<text x="78.10" y="222.80" font-size="9.8" textLength="20.70" lengthAdjust="spacingAndGlyphs">CD56</text>
<text x="99.20" y="219.90" font-size="7.5" textLength="18.80" lengthAdjust="spacingAndGlyphs">bright</text>
<text x="119.60" y="222.80" font-size="9.8" textLength="33.40" lengthAdjust="spacingAndGlyphs">DNAM-1</text>
<text x="153.10" y="220.30" font-size="8.0" textLength="4.00" lengthAdjust="spacingAndGlyphs">+</text>
<text x="244.80" y="222.80" font-size="9.8" textLength="20.80" lengthAdjust="spacingAndGlyphs">CD56</text>
<text x="266.00" y="219.90" font-size="7.5" textLength="10.50" lengthAdjust="spacingAndGlyphs">dim</text>
<text x="279.40" y="222.80" font-size="9.8" textLength="30.80" lengthAdjust="spacingAndGlyphs">DNAM-1</text>
<text x="310.80" y="220.10" font-size="7.4" textLength="3.40" lengthAdjust="spacingAndGlyphs">+</text>
<text x="409.60" y="222.80" font-size="9.8" textLength="21.20" lengthAdjust="spacingAndGlyphs">CD56</text>
<text x="430.80" y="219.90" font-size="7.5" textLength="10.50" lengthAdjust="spacingAndGlyphs">dim</text>
<text x="441.90" y="222.80" font-size="9.8" textLength="30.20" lengthAdjust="spacingAndGlyphs">DNAM-1</text>
<text x="472.60" y="218.80" font-size="6.5" textLength="1.60" lengthAdjust="spacingAndGlyphs">-</text>
<text x="105.20" y="347.60" font-size="7.2" textLength="62.50" lengthAdjust="spacingAndGlyphs" class="sm">Population obtained</text>
<text x="105.20" y="356.50" font-size="7.2" textLength="42.00" lengthAdjust="spacingAndGlyphs" class="sm">after culture:</text>
<line x1="176.00" y1="350.30" x2="185.20" y2="350.30" stroke="#a21f3a" stroke-width="1.3"/>
<circle cx="180.60" cy="350.30" r="1.84" fill="#a21f3a"/>
<text x="187.80" y="352.80" font-size="8.6" textLength="16.60" lengthAdjust="spacingAndGlyphs" class="sm">CD56</text>
<text x="204.40" y="349.40" font-size="5.0" textLength="13.40" lengthAdjust="spacingAndGlyphs" style="fill:#666;stroke:#666">bright</text>
<text x="220.20" y="352.80" font-size="8.6" textLength="24.20" lengthAdjust="spacingAndGlyphs" class="sm">DNAM-1</text>
<text x="243.60" y="351.50" font-size="9.0" textLength="4.20" lengthAdjust="spacingAndGlyphs" class="sm">+</text>
<line x1="263.40" y1="350.30" x2="272.40" y2="350.30" stroke="#34527f" stroke-width="1.3"/>
<rect x="266.20" y="348.40" width="3.80" height="3.80" fill="#34527f"/>
<text x="274.70" y="352.80" font-size="8.6" textLength="16.80" lengthAdjust="spacingAndGlyphs" class="sm">CD56</text>
<text x="292.60" y="349.40" font-size="5.0" textLength="7.00" lengthAdjust="spacingAndGlyphs" style="fill:#666;stroke:#666">dim</text>
<text x="301.70" y="352.80" font-size="8.6" textLength="25.00" lengthAdjust="spacingAndGlyphs" class="sm">DNAM-1</text>
<text x="327.90" y="349.90" font-size="5.2" textLength="2.40" lengthAdjust="spacingAndGlyphs">+</text>
<line x1="344.00" y1="350.30" x2="353.30" y2="350.30" stroke="#6aa650" stroke-width="1.3"/>
<path d="M348.60,348.30 L350.52,351.74 L346.68,351.74Z" fill="#6aa650"/>
<text x="355.60" y="352.80" font-size="8.6" textLength="16.90" lengthAdjust="spacingAndGlyphs" class="sm">CD56</text>
<text x="372.90" y="349.40" font-size="5.0" textLength="6.90" lengthAdjust="spacingAndGlyphs" style="fill:#666;stroke:#666">dim</text>
<text x="382.00" y="352.80" font-size="8.6" textLength="24.60" lengthAdjust="spacingAndGlyphs" class="sm">DNAM-1</text>
<text x="409.20" y="349.20" font-size="4.0" textLength="1.20" lengthAdjust="spacingAndGlyphs">-</text>
<text x="7.30" y="379.10" font-size="10.8" class="big">C</text>
<line x1="59.80" y1="389.70" x2="59.80" y2="463.75" stroke="#404040" stroke-width="1.5"/>
<line x1="59.05" y1="463.00" x2="173.50" y2="463.00" stroke="#404040" stroke-width="1.5"/>
<line x1="57.20" y1="463.50" x2="59.80" y2="463.50" stroke="#404040" stroke-width="1.0"/>
<text x="54.20" y="465.90" font-size="8.4" text-anchor="end" textLength="9.00" lengthAdjust="spacingAndGlyphs">1.0</text>
<line x1="57.20" y1="448.50" x2="59.80" y2="448.50" stroke="#404040" stroke-width="1.0"/>
<text x="54.20" y="451.80" font-size="8.4" text-anchor="end" textLength="9.00" lengthAdjust="spacingAndGlyphs">1.2</text>
<line x1="57.20" y1="434.50" x2="59.80" y2="434.50" stroke="#404040" stroke-width="1.0"/>
<text x="54.20" y="437.70" font-size="8.4" text-anchor="end" textLength="9.00" lengthAdjust="spacingAndGlyphs">1.4</text>
<line x1="57.20" y1="420.50" x2="59.80" y2="420.50" stroke="#404040" stroke-width="1.0"/>
<text x="54.20" y="423.60" font-size="8.4" text-anchor="end" textLength="9.00" lengthAdjust="spacingAndGlyphs">1.6</text>
<line x1="57.20" y1="406.50" x2="59.80" y2="406.50" stroke="#404040" stroke-width="1.0"/>
<text x="54.20" y="409.50" font-size="8.4" text-anchor="end" textLength="9.00" lengthAdjust="spacingAndGlyphs">1.8</text>
<line x1="57.20" y1="392.50" x2="59.80" y2="392.50" stroke="#404040" stroke-width="1.0"/>
<text x="54.20" y="395.40" font-size="8.4" text-anchor="end" textLength="9.00" lengthAdjust="spacingAndGlyphs">2.0</text>
<text x="37.90" y="426.15" font-size="9.4" text-anchor="middle" textLength="76.90" lengthAdjust="spacingAndGlyphs" transform="rotate(-90 37.90 426.15)">MFI telomere probe</text>
<rect x="67.10" y="430.80" width="14.60" height="32.20" fill="#a3344a"/>
<line x1="74.50" y1="422.90" x2="74.50" y2="437.30" stroke="#0d0d0d" stroke-width="0.9"/>
<line x1="71.90" y1="422.50" x2="76.90" y2="422.50" stroke="#0d0d0d" stroke-width="0.9"/>
<line x1="71.90" y1="437.50" x2="76.90" y2="437.50" stroke="#0d0d0d" stroke-width="0.9"/>
<line x1="74.50" y1="463.00" x2="74.50" y2="465.50" stroke="#404040" stroke-width="1.0"/>
<rect x="109.00" y="441.20" width="14.90" height="21.80" fill="#4c6b98"/>
<line x1="116.50" y1="435.70" x2="116.50" y2="446.40" stroke="#0d0d0d" stroke-width="0.9"/>
<line x1="113.95" y1="435.50" x2="118.95" y2="435.50" stroke="#0d0d0d" stroke-width="0.9"/>
<line x1="113.95" y1="446.50" x2="118.95" y2="446.50" stroke="#0d0d0d" stroke-width="0.9"/>
<line x1="116.50" y1="463.00" x2="116.50" y2="465.50" stroke="#404040" stroke-width="1.0"/>
<rect x="151.10" y="445.20" width="15.10" height="17.80" fill="#6eaf52"/>
<line x1="158.50" y1="442.00" x2="158.50" y2="449.30" stroke="#0d0d0d" stroke-width="0.9"/>
<line x1="156.15" y1="442.50" x2="161.15" y2="442.50" stroke="#0d0d0d" stroke-width="0.9"/>
<line x1="156.15" y1="449.50" x2="161.15" y2="449.50" stroke="#0d0d0d" stroke-width="0.9"/>
<line x1="158.50" y1="463.00" x2="158.50" y2="465.50" stroke="#404040" stroke-width="1.0"/>
<rect x="72.50" y="396.10" width="4.00" height="4.00" fill="#0d0d0d"/>
<circle cx="78.00" cy="426.00" r="2.10" fill="#0d0d0d"/>
<path d="M71.20,426.73 L72.98,428.18 L72.31,430.30 L70.09,430.30 L69.42,428.18Z" fill="#0d0d0d"/>
<path d="M71.20,434.80 L73.60,439.20 L68.80,439.20Z" fill="#0d0d0d"/>
<path d="M77.90,436.30 L80.30,438.80 L77.90,441.30 L75.50,438.80Z" fill="#0d0d0d"/>
<path d="M72.00,451.80 L77.00,456.80 M77.00,451.80 L72.00,456.80" stroke="#0d0d0d" stroke-width="0.95" fill="none"/>
<rect x="111.40" y="424.60" width="4.00" height="4.00" fill="#0d0d0d"/>
<circle cx="119.50" cy="427.00" r="2.10" fill="#0d0d0d"/>
<path d="M116.30,434.80 L118.70,439.20 L113.90,439.20Z" fill="#0d0d0d"/>
<path d="M116.30,440.90 L118.70,443.40 L116.30,445.90 L113.90,443.40Z" fill="#0d0d0d"/>
<path d="M119.50,451.53 L121.28,452.97 L120.61,455.10 L118.39,455.10 L117.72,452.97Z" fill="#0d0d0d"/>
<path d="M110.90,456.70 L115.90,461.70 M115.90,456.70 L110.90,461.70" stroke="#0d0d0d" stroke-width="0.95" fill="none"/>
<circle cx="158.40" cy="432.90" r="2.10" fill="#0d0d0d"/>
<path d="M155.40,440.50 L157.80,444.90 L153.00,444.90Z" fill="#0d0d0d"/>
<rect x="159.60" y="438.50" width="4.00" height="4.00" fill="#0d0d0d"/>
<path d="M158.40,447.20 L160.80,449.70 L158.40,452.20 L156.00,449.70Z" fill="#0d0d0d"/>
<path d="M161.60,450.63 L163.38,452.07 L162.70,454.20 L160.50,454.20 L159.81,452.07Z" fill="#0d0d0d"/>
<path d="M152.90,454.10 L157.90,459.10 M157.90,454.10 L152.90,459.10" stroke="#0d0d0d" stroke-width="0.95" fill="none"/>
<text x="58.20" y="475.90" font-size="8.6" textLength="17.40" lengthAdjust="spacingAndGlyphs" class="sm">CD56</text>
<text x="75.70" y="472.80" font-size="6.2" textLength="14.90" lengthAdjust="spacingAndGlyphs">bright</text>
<text x="59.20" y="485.40" font-size="8.4" textLength="26.80" lengthAdjust="spacingAndGlyphs" class="sm">DNAM-1</text>
<text x="86.50" y="482.00" font-size="5.2" textLength="2.60" lengthAdjust="spacingAndGlyphs">+</text>
<text x="103.80" y="475.90" font-size="8.6" textLength="17.40" lengthAdjust="spacingAndGlyphs" class="sm">CD56</text>
<text x="121.40" y="472.90" font-size="6.2" textLength="8.90" lengthAdjust="spacingAndGlyphs">dim</text>
<text x="101.80" y="485.40" font-size="8.4" textLength="26.80" lengthAdjust="spacingAndGlyphs" class="sm">DNAM-1</text>
<text x="129.10" y="482.00" font-size="5.2" textLength="2.60" lengthAdjust="spacingAndGlyphs">+</text>
<text x="145.80" y="475.90" font-size="8.6" textLength="17.40" lengthAdjust="spacingAndGlyphs" class="sm">CD56</text>
<text x="163.40" y="472.90" font-size="6.2" textLength="8.90" lengthAdjust="spacingAndGlyphs">dim</text>
<text x="143.80" y="485.40" font-size="8.4" textLength="26.80" lengthAdjust="spacingAndGlyphs" class="sm">DNAM-1</text>
<text x="171.60" y="481.50" font-size="5.2" textLength="1.60" lengthAdjust="spacingAndGlyphs">-</text>
<text x="194.40" y="378.90" font-size="10.8" class="big">D</text>
<line x1="224.90" y1="394.60" x2="224.90" y2="463.75" stroke="#404040" stroke-width="1.5"/>
<line x1="224.15" y1="463.00" x2="344.20" y2="463.00" stroke="#404040" stroke-width="1.5"/>
<line x1="222.30" y1="463.50" x2="224.90" y2="463.50" stroke="#404040" stroke-width="1.0"/>
<text x="219.50" y="465.90" font-size="8.4" text-anchor="end" textLength="3.85" lengthAdjust="spacingAndGlyphs">0</text>
<line x1="222.30" y1="430.50" x2="224.90" y2="430.50" stroke="#404040" stroke-width="1.0"/>
<text x="219.50" y="433.10" font-size="8.4" text-anchor="end" textLength="7.70" lengthAdjust="spacingAndGlyphs">50</text>
<line x1="222.30" y1="397.50" x2="224.90" y2="397.50" stroke="#404040" stroke-width="1.0"/>
<text x="219.50" y="400.30" font-size="8.4" text-anchor="end" textLength="11.55" lengthAdjust="spacingAndGlyphs">100</text>
<g transform="translate(200.30,470.70) rotate(-90)">
<text x="0.00" y="0.00" font-size="8.8" textLength="48.00" lengthAdjust="spacingAndGlyphs">% annexin V</text>
<text x="48.50" y="-3.70" font-size="6.2" textLength="2.60" lengthAdjust="spacingAndGlyphs">+</text>
<text x="52.60" y="0.00" font-size="8.8" textLength="31.50" lengthAdjust="spacingAndGlyphs">NK cells</text>
</g>
<line x1="235.00" y1="408.50" x2="255.00" y2="408.50" stroke="#454545" stroke-width="1.1"/>
<line x1="245.50" y1="404.60" x2="245.50" y2="412.50" stroke="#454545" stroke-width="0.9"/>
<line x1="240.00" y1="404.50" x2="250.00" y2="404.50" stroke="#454545" stroke-width="1.0"/>
<line x1="240.00" y1="412.50" x2="250.00" y2="412.50" stroke="#454545" stroke-width="1.0"/>
<line x1="273.50" y1="417.50" x2="293.50" y2="417.50" stroke="#454545" stroke-width="1.1"/>
<line x1="283.50" y1="413.50" x2="283.50" y2="421.90" stroke="#454545" stroke-width="0.9"/>
<line x1="278.50" y1="413.50" x2="288.50" y2="413.50" stroke="#454545" stroke-width="1.0"/>
<line x1="278.50" y1="421.50" x2="288.50" y2="421.50" stroke="#454545" stroke-width="1.0"/>
<line x1="311.90" y1="423.50" x2="331.90" y2="423.50" stroke="#454545" stroke-width="1.1"/>
<line x1="321.50" y1="417.30" x2="321.50" y2="429.60" stroke="#454545" stroke-width="0.9"/>
<line x1="316.90" y1="417.50" x2="326.90" y2="417.50" stroke="#454545" stroke-width="1.0"/>
<line x1="316.90" y1="429.50" x2="326.90" y2="429.50" stroke="#454545" stroke-width="1.0"/>
<path d="M241.80,399.06 L243.96,403.02 L239.64,403.02Z" fill="#aa2641" stroke="#2a1518" stroke-width="0.5"/>
<rect x="246.10" y="397.80" width="3.60" height="3.60" fill="#aa2641" stroke="#2a1518" stroke-width="0.5"/>
<circle cx="241.80" cy="409.40" r="1.89" fill="#aa2641" stroke="#2a1518" stroke-width="0.5"/>
<path d="M248.20,412.34 L250.36,408.38 L246.04,408.38Z" fill="#aa2641" stroke="#2a1518" stroke-width="0.5"/>
<path d="M244.90,419.56 L247.06,421.90 L244.90,424.24 L242.74,421.90Z" fill="#aa2641" stroke="#2a1518" stroke-width="0.5"/>
<path d="M275.80,409.16 L277.96,411.50 L275.80,413.84 L273.64,411.50Z" fill="#4a6999" stroke="#2a1518" stroke-width="0.5"/>
<path d="M280.80,410.86 L282.96,414.82 L278.64,414.82Z" fill="#4a6999" stroke="#2a1518" stroke-width="0.5"/>
<rect x="283.70" y="413.70" width="3.60" height="3.60" fill="#4a6999" stroke="#2a1518" stroke-width="0.5"/>
<path d="M290.80,414.44 L292.96,410.48 L288.64,410.48Z" fill="#4a6999" stroke="#2a1518" stroke-width="0.5"/>
<circle cx="283.50" cy="435.30" r="1.89" fill="#4a6999" stroke="#2a1518" stroke-width="0.5"/>
<rect x="316.70" y="409.00" width="3.60" height="3.60" fill="#72b551" stroke="#2a1518" stroke-width="0.5"/>
<path d="M325.00,406.96 L327.16,410.92 L322.84,410.92Z" fill="#72b551" stroke="#2a1518" stroke-width="0.5"/>
<circle cx="321.90" cy="423.20" r="1.89" fill="#72b551" stroke="#2a1518" stroke-width="0.5"/>
<path d="M318.50,440.84 L320.66,436.88 L316.34,436.88Z" fill="#72b551" stroke="#2a1518" stroke-width="0.5"/>
<path d="M325.00,433.16 L327.16,435.50 L325.00,437.84 L322.84,435.50Z" fill="#72b551" stroke="#2a1518" stroke-width="0.5"/>
<line x1="245.10" y1="390.50" x2="321.90" y2="390.50" stroke="#5a5a5a" stroke-width="1.0"/>
<circle cx="283.50" cy="387.00" r="0.85" fill="#333"/>
<line x1="245.50" y1="463.00" x2="245.50" y2="465.50" stroke="#404040" stroke-width="1.0"/>
<line x1="283.50" y1="463.00" x2="283.50" y2="465.50" stroke="#404040" stroke-width="1.0"/>
<line x1="322.50" y1="463.00" x2="322.50" y2="465.50" stroke="#404040" stroke-width="1.0"/>
<text x="228.90" y="475.90" font-size="8.6" textLength="17.40" lengthAdjust="spacingAndGlyphs" class="sm">CD56</text>
<text x="246.40" y="472.80" font-size="6.2" textLength="14.90" lengthAdjust="spacingAndGlyphs">bright</text>
<text x="229.90" y="485.40" font-size="8.4" textLength="26.80" lengthAdjust="spacingAndGlyphs" class="sm">DNAM-1</text>
<text x="257.20" y="482.00" font-size="5.2" textLength="2.60" lengthAdjust="spacingAndGlyphs">+</text>
<text x="269.70" y="475.90" font-size="8.6" textLength="17.40" lengthAdjust="spacingAndGlyphs" class="sm">CD56</text>
<text x="287.30" y="472.90" font-size="6.2" textLength="8.90" lengthAdjust="spacingAndGlyphs">dim</text>
<text x="267.70" y="485.40" font-size="8.4" textLength="26.80" lengthAdjust="spacingAndGlyphs" class="sm">DNAM-1</text>
<text x="295.00" y="482.00" font-size="5.2" textLength="2.60" lengthAdjust="spacingAndGlyphs">+</text>
<text x="308.70" y="475.90" font-size="8.6" textLength="17.40" lengthAdjust="spacingAndGlyphs" class="sm">CD56</text>
<text x="326.30" y="472.90" font-size="6.2" textLength="8.90" lengthAdjust="spacingAndGlyphs">dim</text>
<text x="306.70" y="485.40" font-size="8.4" textLength="26.80" lengthAdjust="spacingAndGlyphs" class="sm">DNAM-1</text>
<text x="334.50" y="481.50" font-size="5.2" textLength="1.60" lengthAdjust="spacingAndGlyphs">-</text>
<text x="365.60" y="378.80" font-size="10.8" class="big">E</text>
<line x1="390.70" y1="392.72" x2="390.70" y2="463.75" stroke="#404040" stroke-width="1.5"/>
<line x1="389.95" y1="463.00" x2="513.00" y2="463.00" stroke="#404040" stroke-width="1.5"/>
<line x1="388.10" y1="463.50" x2="390.70" y2="463.50" stroke="#404040" stroke-width="1.0"/>
<text x="385.20" y="465.90" font-size="8.4" text-anchor="end" textLength="3.85" lengthAdjust="spacingAndGlyphs">0</text>
<line x1="388.10" y1="446.50" x2="390.70" y2="446.50" stroke="#404040" stroke-width="1.0"/>
<text x="385.20" y="449.08" font-size="8.4" text-anchor="end" textLength="7.70" lengthAdjust="spacingAndGlyphs">20</text>
<line x1="388.10" y1="429.50" x2="390.70" y2="429.50" stroke="#404040" stroke-width="1.0"/>
<text x="385.20" y="432.26" font-size="8.4" text-anchor="end" textLength="7.70" lengthAdjust="spacingAndGlyphs">40</text>
<line x1="388.10" y1="412.50" x2="390.70" y2="412.50" stroke="#404040" stroke-width="1.0"/>
<text x="385.20" y="415.44" font-size="8.4" text-anchor="end" textLength="7.70" lengthAdjust="spacingAndGlyphs">60</text>
<line x1="388.10" y1="395.50" x2="390.70" y2="395.50" stroke="#404040" stroke-width="1.0"/>
<text x="385.20" y="398.62" font-size="8.4" text-anchor="end" textLength="7.70" lengthAdjust="spacingAndGlyphs">80</text>
<g transform="translate(370.50,469.60) rotate(-90)">
<text x="0.00" y="0.00" font-size="8.8" textLength="47.66" lengthAdjust="spacingAndGlyphs">% annexin V</text>
<text x="48.15" y="-3.70" font-size="6.2" textLength="2.60" lengthAdjust="spacingAndGlyphs">+</text>
<text x="52.22" y="0.00" font-size="8.8" textLength="31.28" lengthAdjust="spacingAndGlyphs">NK cells</text>
</g>
<line x1="410.50" y1="463.00" x2="410.50" y2="465.50" stroke="#404040" stroke-width="1.0"/>
<line x1="449.50" y1="463.00" x2="449.50" y2="465.50" stroke="#404040" stroke-width="1.0"/>
<line x1="490.50" y1="463.00" x2="490.50" y2="465.50" stroke="#404040" stroke-width="1.0"/>
<line x1="405.60" y1="451.50" x2="415.60" y2="451.50" stroke="#454545" stroke-width="1.1"/>
<line x1="410.50" y1="450.20" x2="410.50" y2="452.20" stroke="#454545" stroke-width="0.9"/>
<line x1="407.60" y1="450.50" x2="413.60" y2="450.50" stroke="#454545" stroke-width="1.0"/>
<line x1="407.60" y1="452.50" x2="413.60" y2="452.50" stroke="#454545" stroke-width="1.0"/>
<line x1="439.00" y1="436.50" x2="459.00" y2="436.50" stroke="#454545" stroke-width="1.1"/>
<line x1="449.50" y1="432.70" x2="449.50" y2="438.80" stroke="#454545" stroke-width="0.9"/>
<line x1="444.00" y1="432.50" x2="454.00" y2="432.50" stroke="#454545" stroke-width="1.0"/>
<line x1="444.00" y1="438.50" x2="454.00" y2="438.50" stroke="#454545" stroke-width="1.0"/>
<line x1="480.60" y1="425.50" x2="500.60" y2="425.50" stroke="#454545" stroke-width="1.1"/>
<line x1="490.50" y1="421.60" x2="490.50" y2="429.60" stroke="#454545" stroke-width="0.9"/>
<line x1="485.60" y1="421.50" x2="495.60" y2="421.50" stroke="#454545" stroke-width="1.0"/>
<line x1="485.60" y1="429.50" x2="495.60" y2="429.50" stroke="#454545" stroke-width="1.0"/>
<circle cx="402.90" cy="451.40" r="1.89" fill="#aa2641" stroke="#2a1518" stroke-width="0.5"/>
<path d="M410.60,445.46 L412.76,449.42 L408.44,449.42Z" fill="#aa2641" stroke="#2a1518" stroke-width="0.5"/>
<path d="M408.30,455.54 L410.46,451.58 L406.14,451.58Z" fill="#aa2641" stroke="#2a1518" stroke-width="0.5"/>
<path d="M413.30,450.66 L415.46,453.00 L413.30,455.34 L411.14,453.00Z" fill="#aa2641" stroke="#2a1518" stroke-width="0.5"/>
<rect x="416.60" y="449.40" width="3.60" height="3.60" fill="#aa2641" stroke="#2a1518" stroke-width="0.5"/>
<circle cx="449.00" cy="429.20" r="1.89" fill="#4a6999" stroke="#2a1518" stroke-width="0.5"/>
<path d="M443.30,431.66 L445.46,435.62 L441.14,435.62Z" fill="#4a6999" stroke="#2a1518" stroke-width="0.5"/>
<path d="M455.40,431.36 L457.56,433.70 L455.40,436.04 L453.24,433.70Z" fill="#4a6999" stroke="#2a1518" stroke-width="0.5"/>
<rect x="447.20" y="435.10" width="3.60" height="3.60" fill="#4a6999" stroke="#2a1518" stroke-width="0.5"/>
<path d="M449.00,446.04 L451.16,442.08 L446.84,442.08Z" fill="#4a6999" stroke="#2a1518" stroke-width="0.5"/>
<circle cx="490.80" cy="413.50" r="1.89" fill="#72b551" stroke="#2a1518" stroke-width="0.5"/>
<path d="M484.40,422.06 L486.56,424.40 L484.40,426.74 L482.24,424.40Z" fill="#72b551" stroke="#2a1518" stroke-width="0.5"/>
<rect x="495.10" y="422.10" width="3.60" height="3.60" fill="#72b551" stroke="#2a1518" stroke-width="0.5"/>
<path d="M490.80,427.26 L492.96,431.22 L488.64,431.22Z" fill="#72b551" stroke="#2a1518" stroke-width="0.5"/>
<path d="M490.80,440.14 L492.96,436.18 L488.64,436.18Z" fill="#72b551" stroke="#2a1518" stroke-width="0.5"/>
<line x1="410.80" y1="395.10" x2="490.40" y2="395.10" stroke="#5a5a5a" stroke-width="1.0"/>
<line x1="410.80" y1="404.50" x2="449.00" y2="404.50" stroke="#5a5a5a" stroke-width="1.0"/>
<line x1="449.00" y1="408.50" x2="490.40" y2="408.50" stroke="#5a5a5a" stroke-width="1.0"/>
<circle cx="449.10" cy="391.50" r="0.85" fill="#333"/>
<circle cx="451.90" cy="391.50" r="0.85" fill="#333"/>
<circle cx="428.50" cy="400.60" r="0.85" fill="#333"/>
<circle cx="431.30" cy="400.60" r="0.85" fill="#333"/>
<circle cx="469.60" cy="404.60" r="0.85" fill="#333"/>
<text x="394.80" y="475.90" font-size="8.6" textLength="17.40" lengthAdjust="spacingAndGlyphs" class="sm">CD56</text>
<text x="412.30" y="472.80" font-size="6.2" textLength="14.90" lengthAdjust="spacingAndGlyphs">bright</text>
<text x="395.80" y="485.40" font-size="8.4" textLength="26.80" lengthAdjust="spacingAndGlyphs" class="sm">DNAM-1</text>
<text x="423.10" y="482.00" font-size="5.2" textLength="2.60" lengthAdjust="spacingAndGlyphs">+</text>
<text x="435.70" y="475.90" font-size="8.6" textLength="17.40" lengthAdjust="spacingAndGlyphs" class="sm">CD56</text>
<text x="453.30" y="472.90" font-size="6.2" textLength="8.90" lengthAdjust="spacingAndGlyphs">dim</text>
<text x="433.70" y="485.40" font-size="8.4" textLength="26.80" lengthAdjust="spacingAndGlyphs" class="sm">DNAM-1</text>
<text x="461.00" y="482.00" font-size="5.2" textLength="2.60" lengthAdjust="spacingAndGlyphs">+</text>
<text x="477.10" y="475.90" font-size="8.6" textLength="17.40" lengthAdjust="spacingAndGlyphs" class="sm">CD56</text>
<text x="494.70" y="472.90" font-size="6.2" textLength="8.90" lengthAdjust="spacingAndGlyphs">dim</text>
<text x="475.10" y="485.40" font-size="8.4" textLength="26.80" lengthAdjust="spacingAndGlyphs" class="sm">DNAM-1</text>
<text x="502.90" y="481.50" font-size="5.2" textLength="1.60" lengthAdjust="spacingAndGlyphs">-</text>
<rect x="1.5" y="1.5" width="517" height="491" fill="none" stroke="#9a9a9a" stroke-width="1"/>
<rect x="0.5" y="0.5" width="519" height="493" fill="none" stroke="#3c3c3c" stroke-width="1"/>
</svg>
</body></html>
